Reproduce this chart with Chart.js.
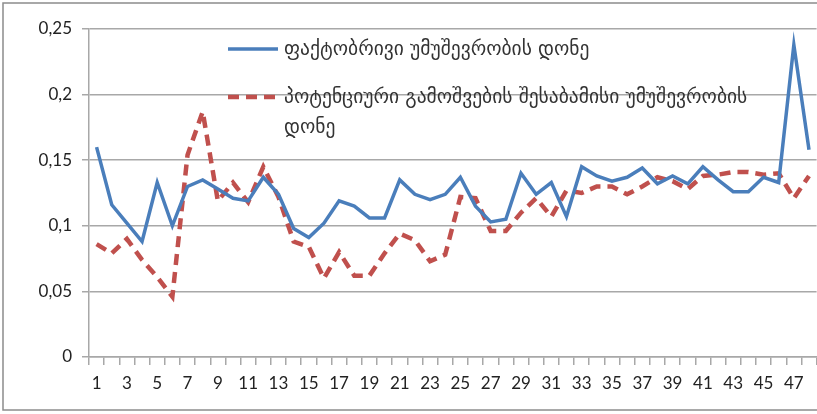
<!DOCTYPE html>
<html>
<head>
<meta charset="utf-8">
<script src="https://cdn.jsdelivr.net/npm/chart.js@4.4.1/dist/chart.umd.min.js"></script>
<style>
    html, body { margin: 0; padding: 0; background: #fff; overflow: hidden; }
    #wrap { position: relative; width: 817px; height: 414px; }
</style>
</head>
<body>
<div id="wrap"><canvas id="unemploymentChart"></canvas></div>
<script>
// Chart data
const categories = ['1', '2', '3', '4', '5', '6', '7', '8', '9', '10', '11', '12',
    '13', '14', '15', '16', '17', '18', '19', '20', '21', '22', '23', '24',
    '25', '26', '27', '28', '29', '30', '31', '32', '33', '34', '35', '36',
    '37', '38', '39', '40', '41', '42', '43', '44', '45', '46', '47', '48'];

const actualRate = [0.160, 0.116, 0.102, 0.088, 0.133, 0.100, 0.130, 0.135, 0.128, 0.121, 0.119, 0.137,
    0.124, 0.098, 0.091, 0.102, 0.119, 0.115, 0.106, 0.106, 0.135, 0.124, 0.120, 0.124,
    0.137, 0.115, 0.103, 0.105, 0.140, 0.124, 0.133, 0.107, 0.145, 0.138, 0.134, 0.137,
    0.144, 0.132, 0.138, 0.132, 0.145, 0.135, 0.126, 0.126, 0.137, 0.133, 0.238, 0.158];

const potentialRate = [0.086, 0.079, 0.090, 0.074, 0.061, 0.046, 0.154, 0.187, 0.119, 0.133, 0.118, 0.145,
    0.122, 0.088, 0.084, 0.060, 0.080, 0.062, 0.062, 0.079, 0.094, 0.089, 0.073, 0.078,
    0.122, 0.121, 0.096, 0.096, 0.110, 0.121, 0.107, 0.127, 0.125, 0.130, 0.130, 0.124,
    0.130, 0.137, 0.134, 0.128, 0.138, 0.139, 0.141, 0.141, 0.139, 0.140, 0.121, 0.138];

const yTickLabels = ['0', '0,05', '0,1', '0,15', '0,2', '0,25'];

const actualLabel = 'ფაქტობრივი უმუშევრობის დონე';
const potentialLabel = ['პოტენციური გამოშვების შესაბამისი უმუშევრობის', 'დონე'];

const axisFont = { family: 'Lato, "Open Sans", sans-serif', size: 17 };

// legend drawn inside the plot, like the original
const insideLegend = {
    id: 'insideLegend',
    afterDatasetsDraw(chart) {
        const ctx = chart.ctx;
        const sets = chart.data.datasets;
        ctx.save();
        ctx.font = '19.5px "DejaVu Sans", sans-serif';
        ctx.fillStyle = '#333';
        ctx.textBaseline = 'middle';

        // blue sample
        ctx.strokeStyle = sets[0].borderColor;
        ctx.lineWidth = sets[0].borderWidth;
        ctx.beginPath();
        ctx.moveTo(228, 49);
        ctx.lineTo(278, 49);
        ctx.stroke();
        ctx.fillText(actualLabel, 284, 50);

        // red dashed sample
        ctx.strokeStyle = sets[1].borderColor;
        ctx.lineWidth = sets[1].borderWidth;
        ctx.setLineDash(sets[1].borderDash);
        ctx.beginPath();
        ctx.moveTo(228, 97);
        ctx.lineTo(280, 97);
        ctx.stroke();
        ctx.setLineDash([]);
        ctx.fillText(potentialLabel[0], 284, 98);
        ctx.fillText(potentialLabel[1], 284, 128);

        // outer frame
        ctx.strokeStyle = '#8c8c8c';
        ctx.lineWidth = 1.5;
        ctx.strokeRect(3, 3, 900, 407);
        ctx.restore();
    }
};

document.addEventListener('DOMContentLoaded', function() {
    const ctx = document.getElementById('unemploymentChart').getContext('2d');

    new Chart(ctx, {
        type: 'line',
        data: {
            labels: categories,
            datasets: [
                {
                    label: actualLabel,
                    data: actualRate,
                    borderColor: '#4a7ebb',
                    borderWidth: 3.5,
                    pointRadius: 0,
                    tension: 0,
                    fill: false
                },
                {
                    label: potentialLabel.join(' '),
                    data: potentialRate,
                    borderColor: '#c0504d',
                    borderWidth: 4.5,
                    borderDash: [11, 7],
                    pointRadius: 0,
                    tension: 0,
                    fill: false
                }
            ]
        },
        options: {
            responsive: true,
            maintainAspectRatio: false,
            animation: false,
            layout: {
                padding: { top: 29, left: 0, right: 0, bottom: 0 }
            },
            plugins: {
                legend: { display: false },
                tooltip: { enabled: false }
            },
            scales: {
                y: {
                    min: 0,
                    max: 0.25,
                    afterFit: function(scale) { scale.width = 89; },
                    ticks: {
                        stepSize: 0.05,
                        padding: 10,
                        color: '#222',
                        font: axisFont,
                        callback: function(value, index) {
                            return yTickLabels[index];
                        }
                    },
                    grid: {
                        color: '#a8a8a8',
                        lineWidth: 1.5,
                        tickLength: 7
                    },
                    border: { color: '#a8a8a8', width: 1.5 }
                },
                x: {
                    offset: true,
                    afterFit: function(scale) { scale.height = 57; },
                    ticks: {
                        autoSkip: false,
                        maxRotation: 0,
                        padding: 8,
                        color: '#222',
                        font: axisFont,
                        callback: function(value, index) {
                            return index % 2 === 0 ? categories[index] : '';
                        }
                    },
                    grid: {
                        offset: true,
                        drawOnChartArea: false,
                        color: '#a8a8a8',
                        lineWidth: 1.5,
                        tickLength: 8
                    },
                    border: { color: '#a8a8a8', width: 1.5 }
                }
            }
        },
        plugins: [insideLegend]
    });
});
</script>
</body>
</html>
